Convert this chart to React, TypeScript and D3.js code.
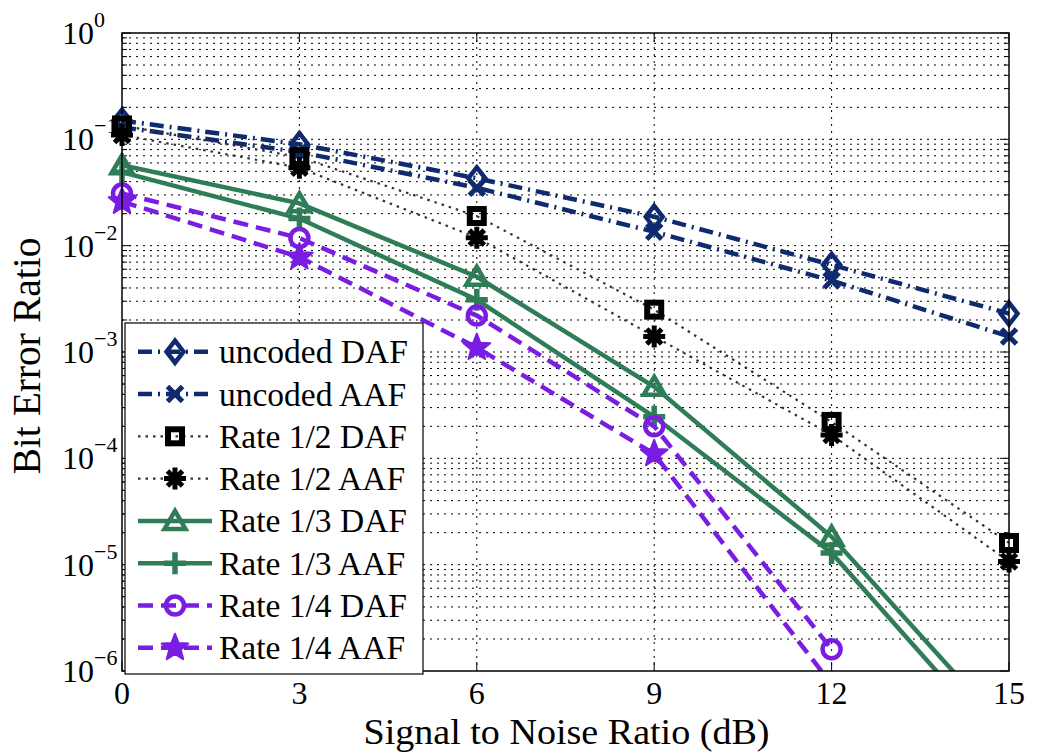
import React from "react";
import * as d3 from "d3";

// SNR sweep (dB) and measured bit error ratios per scheme
const snr = [0, 3, 6, 9, 12, 15];
const uncodedDAF = [0.15, 0.09, 0.043, 0.0187, 0.0066, 0.0023];
const uncodedAAF = [0.13, 0.076, 0.035, 0.0135, 0.0047, 0.0014];
const rate12DAF = [0.135, 0.068, 0.019, 0.0025, 2.2e-4, 1.6e-5];
const rate12AAF = [0.11, 0.054, 0.0119, 0.0014, 1.66e-4, 1.07e-5];
const rate13DAF = [0.057, 0.025, 0.0051, 4.7e-4, 1.83e-5, 2.6e-7];
const rate13AAF = [0.049, 0.018, 0.0031, 2.46e-4, 1.29e-5, 1.7e-7];
const rate14DAF = [0.031, 0.0118, 0.0022, 2.0e-4, 1.6e-6];
const rate14AAF = [0.026, 0.0078, 0.0011, 1.1e-4, 7.5e-7];

const xTicks = [0, 3, 6, 9, 12, 15];
const yExponents = [0, -1, -2, -3, -4, -5, -6];

const NAVY = "#0f2a6e";
const GREEN = "#2e7d57";
const PURPLE = "#7a1de3";
const BLACK = "#000";

type Marker = "diamond" | "x" | "square" | "asterisk" | "triangle" | "plus" | "circle" | "star";

interface Series {
  name: string;
  values: number[];
  color: string;
  dash: string;
  width: number;
  marker: Marker;
}

const series: Series[] = [
  { name: "uncoded DAF", values: uncodedDAF, color: NAVY, dash: "14,6,2,6", width: 4.5, marker: "diamond" },
  { name: "uncoded AAF", values: uncodedAAF, color: NAVY, dash: "14,6,2,6", width: 4.5, marker: "x" },
  { name: "Rate 1/2 DAF", values: rate12DAF, color: "#333", dash: "2.5,5", width: 2.2, marker: "square" },
  { name: "Rate 1/2 AAF", values: rate12AAF, color: "#333", dash: "2.5,5", width: 2.2, marker: "asterisk" },
  { name: "Rate 1/3 DAF", values: rate13DAF, color: GREEN, dash: "none", width: 4.5, marker: "triangle" },
  { name: "Rate 1/3 AAF", values: rate13AAF, color: GREEN, dash: "none", width: 4.5, marker: "plus" },
  { name: "Rate 1/4 DAF", values: rate14DAF, color: PURPLE, dash: "15,8", width: 4.5, marker: "circle" },
  { name: "Rate 1/4 AAF", values: rate14AAF, color: PURPLE, dash: "15,8", width: 4.5, marker: "star" },
];

const FONT = "'Liberation Serif', 'Times New Roman', serif";

const left = 122;
const right = 1009;
const top = 33;
const bottom = 671;

function MarkerShape({ type, x, y, color }: { type: Marker; x: number; y: number; color: string }) {
  const t = `translate(${x},${y})`;
  switch (type) {
    case "diamond":
      return <path transform={t} d="M0,-11L8.5,0L0,11L-8.5,0Z" fill="none" stroke={color} strokeWidth={4.5} strokeLinejoin="miter" />;
    case "x":
      return <path transform={t} d="M-7.5,-7.5L7.5,7.5M-7.5,7.5L7.5,-7.5" stroke={color} strokeWidth={5} />;
    case "square":
      return <rect transform={t} x={-7} y={-7} width={14} height={14} fill="none" stroke={BLACK} strokeWidth={6} />;
    case "asterisk":
      return (
        <path
          transform={t}
          d="M0,-11L0,11M-11,0L11,0M-7.5,-7.5L7.5,7.5M-7.5,7.5L7.5,-7.5"
          stroke={BLACK}
          strokeWidth={5}
        />
      );
    case "triangle":
      return <path transform={t} d="M0,-10L10.5,8L-10.5,8Z" fill="none" stroke={color} strokeWidth={4.5} />;
    case "plus":
      return <path transform={t} d="M0,-11L0,11M-11,0L11,0" stroke={color} strokeWidth={5.5} />;
    case "circle":
      return <circle cx={x} cy={y} r={9} fill="none" stroke={color} strokeWidth={4.5} />;
    case "star": {
      const pts: string[] = [];
      for (let i = 0; i < 10; i++) {
        const r = i % 2 === 0 ? 14 : 6;
        const a = -Math.PI / 2 + (i * Math.PI) / 5;
        pts.push(`${(r * Math.cos(a)).toFixed(2)},${(r * Math.sin(a)).toFixed(2)}`);
      }
      return <path transform={t} d={`M${pts.join("L")}Z`} fill={color} stroke={color} strokeWidth={2} strokeLinejoin="round" />;
    }
  }
  return null;
}

export default function App() {
  const x = d3.scaleLinear().domain([0, 15]).range([left, right]);
  const y = d3.scaleLog().domain([1e-6, 1]).range([bottom, top]);

  const line = d3
    .line<number>()
    .x((_, i) => x(snr[i]))
    .y((v) => y(v));

  // decade + minor grid values
  const minorVals: number[] = [];
  for (let e = -6; e < 0; e++) {
    for (let m = 2; m <= 9; m++) minorVals.push(m * Math.pow(10, e));
  }
  const majorVals = yExponents.map((e) => Math.pow(10, e));

  const legendTop = 351.7;
  const legendStep = 42.3;

  return (
    <svg
      width={1040}
      height={753}
      style={{ position: "absolute", left: 0, top: 0, background: "#fff" }}
      fontFamily={FONT}
    >
      <defs>
        <clipPath id="plotArea">
          <rect x={left} y={top} width={right - left} height={bottom - top} />
        </clipPath>
      </defs>
      <rect x={0} y={0} width={1040} height={753} fill="#fff" />

      {/* grid */}
      <g stroke="#000" strokeWidth={1} strokeDasharray="2,5">
        {xTicks.slice(1, -1).map((t) => (
          <line key={`gx${t}`} x1={x(t)} x2={x(t)} y1={top} y2={bottom} />
        ))}
        {[...majorVals.slice(1, -1), ...minorVals].map((v, i) => (
          <line key={`gy${i}`} x1={left} x2={right} y1={y(v)} y2={y(v)} />
        ))}
      </g>

      {/* ticks */}
      <g stroke="#000" strokeWidth={1}>
        {xTicks.map((t) => (
          <g key={`tx${t}`}>
            <line x1={x(t)} x2={x(t)} y1={bottom} y2={bottom - 9} />
            <line x1={x(t)} x2={x(t)} y1={top} y2={top + 9} />
          </g>
        ))}
        {majorVals.map((v, i) => (
          <g key={`ty${i}`}>
            <line x1={left} x2={left + 9} y1={y(v)} y2={y(v)} />
            <line x1={right} x2={right - 9} y1={y(v)} y2={y(v)} />
          </g>
        ))}
        {minorVals.map((v, i) => (
          <g key={`tm${i}`}>
            <line x1={left} x2={left + 5} y1={y(v)} y2={y(v)} />
            <line x1={right} x2={right - 5} y1={y(v)} y2={y(v)} />
          </g>
        ))}
      </g>

      {/* tick labels */}
      <g fill="#000">
        {xTicks.map((t) => (
          <text key={`lx${t}`} x={x(t)} y={bottom + 33} fontSize={32} textAnchor="middle">
            {t}
          </text>
        ))}
        {yExponents.map((e) => (
          <text key={`ly${e}`} x={62} y={y(Math.pow(10, e)) + 11} fontSize={32}>
            10
            <tspan dy={-17} fontSize={22}>
              {e === 0 ? "0" : `\u2212${-e}`}
            </tspan>
          </text>
        ))}
      </g>

      {/* axis titles */}
      <text
        x={(left + right) / 2 + 1}
        y={744}
        fontSize={35}
        textAnchor="middle"
        textLength={406}
        lengthAdjust="spacingAndGlyphs"
        fill="#000"
      >
        Signal to Noise Ratio (dB)
      </text>
      <text
        transform={`translate(40,356) rotate(-90)`}
        fontSize={39.5}
        textAnchor="middle"
        fill="#000"
      >
        Bit Error Ratio
      </text>

      {/* curves */}
      {series.map((s) => (
        <g key={s.name}>
          <path
            d={line(s.values) || ""}
            fill="none"
            stroke={s.color}
            strokeWidth={s.width}
            strokeDasharray={s.dash}
            clipPath="url(#plotArea)"
          />
          {s.values.map((v, i) =>
            v >= 1e-6 ? <MarkerShape key={i} type={s.marker} x={x(snr[i])} y={y(v)} color={s.color} /> : null
          )}
        </g>
      ))}

      {/* frame */}
      <rect x={left} y={top} width={right - left} height={bottom - top} fill="none" stroke="#000" strokeWidth={1.5} />

      {/* legend */}
      <g>
        <rect x={125} y={323} width={298} height={351} fill="#fff" stroke="#000" strokeWidth={1.2} />
        {series.map((s, i) => {
          const cy = legendTop + i * legendStep;
          return (
            <g key={`lg${s.name}`}>
              <line
                x1={138}
                x2={212}
                y1={cy}
                y2={cy}
                stroke={s.color}
                strokeWidth={s.width}
                strokeDasharray={s.dash}
              />
              <MarkerShape type={s.marker} x={175} y={cy} color={s.color} />
              <text x={219} y={cy + 11.5} fontSize={33.5} fill="#000">
                {s.name}
              </text>
            </g>
          );
        })}
      </g>
    </svg>
  );
}
